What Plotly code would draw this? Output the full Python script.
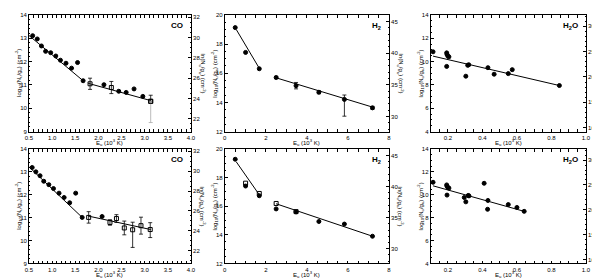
import math
import plotly.graph_objects as go

LN10 = math.log(10)

# ---------------- DATA ----------------
# Top CO
co1_x = [0.58, 0.68, 0.77, 0.86, 0.97, 1.08, 1.18, 1.30, 1.42, 1.55, 1.67, 2.12, 2.44, 2.60, 2.77, 2.96]
co1_y = [13.11, 12.97, 12.67, 12.44, 12.38, 12.24, 12.06, 11.93, 11.72, 11.96, 11.18, 11.01, 10.73, 10.68, 10.83, 10.51]
co1e_x = [1.82, 2.28]
co1e_y = [11.05, 10.89]
co1e_err = [0.24, 0.26]
co1g_x = [3.13]
co1g_y = [10.30]
co1g_up = [0.26]
co1g_dn = [0.91]
co1_fit1_x = [0.50, 1.67]
co1_fit1_y = [13.12, 11.18]
co1_fit2_x = [1.78, 3.13]
co1_fit2_y = [11.07, 10.33]

# Top H2
h21_x = [0.51, 1.015, 1.682]
h21_y = [19.13, 17.43, 16.31]
h21e_x = [2.504, 3.474, 4.586, 5.829, 7.197]
h21e_y = [15.71, 15.15, 14.70, 14.21, 13.63]
h21e_up = [0.08, 0.22, 0.10, 0.30, 0.10]
h21e_dn = [0.08, 0.22, 0.10, 1.15, 0.10]
h21_fit1_x = [0.56, 1.70]
h21_fit1_y = [19.00, 16.30]
h21_fit2_x = [2.50, 7.20]
h21_fit2_y = [15.69, 13.68]

# Top H2O
w1_x = [0.114, 0.193, 0.195, 0.200, 0.206, 0.193, 0.315, 0.321, 0.304, 0.432, 0.468, 0.550, 0.573, 0.846]
w1_y = [10.84, 10.75, 10.61, 10.47, 10.41, 9.59, 9.68, 9.73, 8.75, 9.48, 8.92, 8.97, 9.31, 7.95]
w1_fit_x = [0.114, 0.846]
w1_fit_y = [10.47, 7.95]

# Bottom CO
co2_x = [0.57, 0.65, 0.74, 0.82, 0.93, 1.03, 1.15, 1.26, 1.38, 1.51, 1.65, 2.08]
co2_y = [13.19, 13.00, 12.83, 12.59, 12.44, 12.27, 12.07, 11.88, 11.65, 12.07, 11.01, 11.05]
co2e_x = [1.79, 2.25, 2.39, 2.56, 2.74, 2.92, 3.12]
co2e_y = [11.01, 10.79, 10.96, 10.55, 10.47, 10.65, 10.48]
co2e_up = [0.25, 0.12, 0.17, 0.30, 0.33, 0.37, 0.30]
co2e_dn = [0.25, 0.12, 0.17, 0.30, 0.77, 0.37, 0.35]
co2_fit1_x = [0.50, 1.65]
co2_fit1_y = [13.22, 11.01]
co2_fit2_x = [1.78, 3.13]
co2_fit2_y = [11.07, 10.48]

# Bottom H2
h22_x = [0.51, 1.015, 1.682, 2.504, 3.474, 4.586, 5.829, 7.197]
h22_y = [19.28, 17.41, 16.73, 15.81, 15.60, 14.93, 14.75, 13.90]
h22o_x = [1.015, 1.682, 2.504, 3.474]
h22o_y = [17.61, 16.89, 16.19, 15.62]
h22_fit1_x = [0.56, 1.70]
h22_fit1_y = [19.10, 16.76]
h22_fit2_x = [2.50, 7.20]
h22_fit2_y = [16.17, 13.90]

# Bottom H2O
w2_x = [0.114, 0.193, 0.195, 0.200, 0.206, 0.195, 0.295, 0.304, 0.318, 0.322, 0.410, 0.432, 0.430, 0.550, 0.600, 0.642]
w2_y = [11.09, 10.86, 10.75, 10.64, 10.58, 9.97, 9.76, 9.38, 9.94, 9.90, 11.00, 9.50, 8.73, 9.14, 8.89, 8.55]
w2_fit_x = [0.114, 0.642]
w2_fit_y = [10.78, 8.55]

panel_labels = ["CO", "H<sub>2</sub>", "H<sub>2</sub>O", "CO", "H<sub>2</sub>", "H<sub>2</sub>O"]
x_ranges = [[0.5, 4.0], [0, 8], [0.1, 1.0]] * 2
y_ranges = [[9, 14], [12, 20], [4, 14]] * 2
x_dtick = [0.5, 2, 0.2] * 2
x_minor = [0.1, 0.5, 0.05] * 2
y_dtick = [1, 2, 2] * 2
y_minor = [0.2, 0.5, 0.5] * 2
yr_dtick = [2, 5, 5] * 2
yr_minor = [0.5, 1, 1] * 2

# ---------------- LAYOUT GEOMETRY ----------------
W, H = 600, 278
col_px = [(17.2, 181.7), (216.0, 382.7), (425.0, 582.7)]
row_px = [(4.0, 123.3), (141.0, 258.0)]
xtitle_off = [11.0, 11.2]
ytitle_r_off = [12.0, 12.0, 11.0]

FONT = "Liberation Sans, Arial, sans-serif"
fig = go.Figure()

def add_pts(i, x, y, symbol="circle", up=None, dn=None, ecolor="black", size=4):
    kw = {}
    if up is not None:
        kw["error_y"] = dict(type="data", symmetric=False, array=up,
                             arrayminus=dn if dn is not None else up,
                             color=ecolor, thickness=0.8, width=2)
    fig.add_trace(go.Scatter(x=x, y=y, mode="markers", xaxis=f"x{i+1}", yaxis=f"y{2*i+1}",
                             marker=dict(symbol=symbol, size=size, color="black",
                                         line=dict(color="black", width=1)),
                             showlegend=False, **kw))

def add_line(i, x, y):
    fig.add_trace(go.Scatter(x=x, y=y, mode="lines", xaxis=f"x{i+1}", yaxis=f"y{2*i+1}",
                             line=dict(color="black", width=1), showlegend=False))

# Panel 0: top CO
add_line(0, co1_fit1_x, co1_fit1_y)
add_line(0, co1_fit2_x, co1_fit2_y)
add_pts(0, co1_x, co1_y)
add_pts(0, co1e_x, co1e_y, "square-open", co1e_err, co1e_err)
add_pts(0, co1g_x, co1g_y, "square-open", co1g_up, [0], "black")
add_pts(0, co1g_x, co1g_y, "square-open", [0], co1g_dn, "#aaaaaa")

# Panel 1: top H2
add_line(1, h21_fit1_x, h21_fit1_y)
add_line(1, h21_fit2_x, h21_fit2_y)
add_pts(1, h21_x, h21_y)
add_pts(1, h21e_x, h21e_y, "circle", h21e_up, h21e_dn)

# Panel 2: top H2O
add_line(2, w1_fit_x, w1_fit_y)
add_pts(2, w1_x, w1_y)

# Panel 3: bottom CO
add_line(3, co2_fit1_x, co2_fit1_y)
add_line(3, co2_fit2_x, co2_fit2_y)
add_pts(3, co2_x, co2_y)
add_pts(3, co2e_x, co2e_y, "square-open", co2e_up, co2e_dn)

# Panel 4: bottom H2
add_line(4, h22_fit1_x, h22_fit1_y)
add_line(4, h22_fit2_x, h22_fit2_y)
add_pts(4, h22_x, h22_y)
add_pts(4, h22o_x, h22o_y, "square-open")

# Panel 5: bottom H2O
add_line(5, w2_fit_x, w2_fit_y)
add_pts(5, w2_x, w2_y)

tickfont = dict(family=FONT, size=6, color="black")
layout = {}
annotations = []
for i in range(6):
    r, c = divmod(i, 3)
    x0, x1 = col_px[c]
    y0, y1 = row_px[r]
    xd = [x0 / W, x1 / W]
    yd = [1 - y1 / H, 1 - y0 / H]
    xa = f"xaxis{i+1}"
    yl = f"yaxis{2*i+1}"
    yr = f"yaxis{2*i+2}"
    layout[xa] = dict(domain=xd, anchor=f"y{2*i+1}", range=x_ranges[i],
                      tick0=0, dtick=x_dtick[i], ticks="inside", ticklen=3,
                      tickwidth=0.8, tickcolor="black",
                      minor=dict(dtick=x_minor[i], ticks="inside", ticklen=1.5,
                                 tickcolor="black", showgrid=False),
                      showline=True, linecolor="black", linewidth=0.8, mirror="allticks",
                      showgrid=False, zeroline=False, tickfont=tickfont,
                      tickformat=".1f" if c != 1 else "d", ticklabelstandoff=0)
    layout[yl] = dict(domain=yd, anchor=f"x{i+1}", range=y_ranges[i],
                      tick0=0, dtick=y_dtick[i], ticks="inside", ticklen=3,
                      tickwidth=0.8, tickcolor="black",
                      minor=dict(dtick=y_minor[i], ticks="inside", ticklen=1.5,
                                 tickcolor="black", showgrid=False),
                      showline=True, linecolor="black", linewidth=0.8, mirror=True,
                      showgrid=False, zeroline=False, tickfont=tickfont)
    layout[yr] = dict(overlaying=f"y{2*i+1}", anchor=f"x{i+1}", side="right",
                      range=[v * LN10 for v in y_ranges[i]],
                      tick0=0, dtick=yr_dtick[i], ticks="inside", ticklen=3,
                      tickwidth=0.8, tickcolor="black",
                      minor=dict(dtick=yr_minor[i], ticks="inside", ticklen=1.5,
                                 tickcolor="black", showgrid=False),
                      showline=True, linecolor="black", linewidth=0.8,
                      showgrid=False, zeroline=False, tickfont=tickfont)
    # dummy trace so right axis is drawn
    fig.add_trace(go.Scatter(x=[None], y=[None], xaxis=f"x{i+1}", yaxis=f"y{2*i+2}",
                             mode="markers", showlegend=False, hoverinfo="skip"))
    xc = (x0 + x1) / 2
    yc = (y0 + y1) / 2
    # x title
    annotations.append(dict(text="E<sub>u</sub> (10<sup>3</sup> K)", xref="paper", yref="paper",
                            x=xc / W, y=1 - (y1 + xtitle_off[r]) / H, showarrow=False,
                            font=dict(family=FONT, size=6, color="black"), borderpad=0,
                            xanchor="center", yanchor="middle"))
    # left y title
    annotations.append(dict(text="log<sub>10</sub>(N<sub>u</sub>/g<sub>u</sub>) (cm<sup>-2</sup>)",
                            xref="paper", yref="paper", x=(x0 - 10.5) / W, y=1 - yc / H,
                            showarrow=False, textangle=-90, borderpad=0,
                            font=dict(family=FONT, size=6, color="black"),
                            xanchor="center", yanchor="middle"))
    # right y title
    annotations.append(dict(text="ln(N<sub>u</sub>/g<sub>u</sub>) (cm<sup>-2</sup>)",
                            xref="paper", yref="paper", x=(x1 + ytitle_r_off[c]) / W, y=1 - yc / H,
                            showarrow=False, textangle=90, borderpad=0,
                            font=dict(family=FONT, size=6, color="black"),
                            xanchor="center", yanchor="middle"))
    # panel label
    annotations.append(dict(text=f"<b>{panel_labels[i]}</b>", xref="paper", yref="paper",
                            x=(x1 - 6) / W, y=1 - (y0 + 11) / H, showarrow=False,
                            font=dict(family=FONT, size=8, color="#000000"),
                            xanchor="right", yanchor="middle"))

fig.update_layout(**layout)
fig.update_layout(width=W, height=H, margin=dict(l=0, r=0, t=0, b=0),
                  paper_bgcolor="white", plot_bgcolor="white",
                  annotations=annotations, showlegend=False,
                  font=dict(family=FONT, size=6, color="black"))
fig.write_html("out.html")
